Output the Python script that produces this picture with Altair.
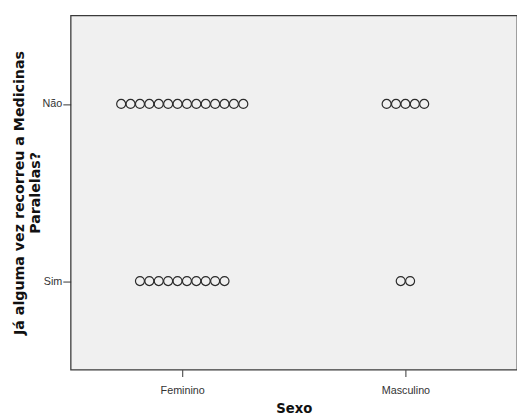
import altair as alt
import pandas as pd

# Groups and number of respondents in each (one circle per respondent)
sexo = ["Feminino", "Feminino", "Masculino", "Masculino"]
resposta = ["Não", "Sim", "Não", "Sim"]
contagem = [14, 10, 5, 2]

rows = []
for s, r, n in zip(sexo, resposta, contagem):
    for _ in range(n):
        rows.append({"sexo": s, "resposta": r})
df = pd.DataFrame(rows)

chart = (
    alt.Chart(df)
    .transform_window(rank="row_number()", groupby=["sexo", "resposta"])
    .transform_joinaggregate(n="count()", groupby=["sexo", "resposta"])
    .transform_calculate(offset="datum.rank - (datum.n + 1) / 2")
    .mark_point(shape="circle", filled=False, size=84, stroke="#2b2b2b", strokeWidth=1.2, opacity=1)
    .encode(
        x=alt.X("sexo:N", title="Sexo",
                scale=alt.Scale(type="point", padding=0.5, domain=["Feminino", "Masculino"]),
                axis=alt.Axis(labelAngle=0, domain=False, grid=False, tickSize=7,
                              tickColor="#333333", labelPadding=8, titlePadding=7,
                              titleFontSize=13.5)),
        xOffset=alt.XOffset("offset:Q", scale=alt.Scale(domain=[-10, 10], range=[-96, 96])),
        y=alt.Y("resposta:N", title=["Já alguma vez recorreu a Medicinas", "Paralelas?"],
                scale=alt.Scale(type="point", padding=0.5, domain=["Não", "Sim"]),
                axis=alt.Axis(domain=False, grid=False, tickSize=8, tickColor="#333333",
                              labelPadding=1, titlePadding=0, titleLineHeight=16,
                              titleFontSize=14.5)),
    )
    .properties(
        width=456,
        height=362,
        autosize="none",
        padding={"left": 64, "top": 3, "right": 0, "bottom": 50},
    )
    .configure_view(fill="#f0f0f0", stroke="#3a3a3a", strokeWidth=1.3)
    .configure_axis(
        labelFont="Liberation Sans", labelFontSize=11, labelColor="#333333",
        titleFont="DejaVu Sans", titleFontWeight="bold", titleColor="#111111",
    )
)

chart.save("out.html", embed_options={"renderer": "svg", "actions": False})
